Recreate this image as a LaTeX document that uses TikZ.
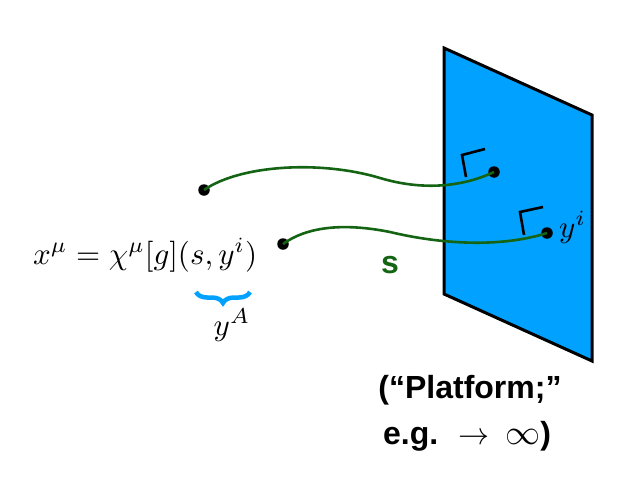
\documentclass[tikz,border=0pt]{standalone}
\usepackage{fontspec}
\setsansfont{Liberation Sans}
\usetikzlibrary{decorations.pathreplacing}
\definecolor{platblue}{RGB}{0,161,255}
\definecolor{strgreen}{RGB}{20,100,20}
\newcommand{\mybigmath}[2]{\scalebox{#1}{\normalsize$#2$}}
\begin{document}
\begin{tikzpicture}[x=1pt,y=-1pt,
  dotnode/.style={circle,fill=black,inner sep=0pt,minimum size=11.5pt},
  stringline/.style={strgreen,line width=2.6pt},
  cornermark/.style={black,line width=2.6pt},
  platform/.style={fill=platblue,draw=black,line width=3pt,line join=miter},
  bracestyle/.style={platblue,line width=4.5pt,decorate,decoration={brace,amplitude=11pt}},
  mathlabel/.style={inner sep=0pt},
  boldlabel/.style={inner sep=0pt,font=\sffamily\bfseries\fontsize{32}{38}\selectfont}]
\useasboundingbox (0,0) rectangle (643,498);
% platform
\draw[platform] (444,48) -- (592,115) -- (592,361) -- (444,294) -- cycle;
% endpoints
\node[dotnode] (d1) at (204,190) {};
\node[dotnode] (d2) at (494,172) {};
\node[dotnode] (d3) at (283,244) {};
\node[dotnode] (d4) at (547,233) {};
\coordinate (m1) at (380,178);
\coordinate (m2) at (390,232);
% strings
\draw[stringline] (d1.center) .. controls (240,165) and (320,160) .. (m1)
   .. controls (420,190) and (460,188) .. (d2.center);
\draw[stringline] (d3.center) .. controls (305,228) and (340,222) .. (m2)
   .. controls (440,244) and (500,248) .. (d4.center);
% corner marks
\coordinate (c1a) at (485,149); \coordinate (c1b) at (462,155); \coordinate (c1c) at (466,177);
\coordinate (c2a) at (543,207); \coordinate (c2b) at (520,212); \coordinate (c2c) at (524,235);
\draw[cornermark] (c1a) -- (c1b) -- (c1c);
\draw[cornermark] (c2a) -- (c2b) -- (c2c);
% labels
\node[mathlabel,anchor=base west] (yi) at (559,237) {\mybigmath{3.1}{y^i}};
\node[mathlabel,anchor=base west] (eq) at (33,264) {\mybigmath{3.1}{x^\mu=\chi^\mu[g](s,y^i)}};
\node[boldlabel,text=strgreen,anchor=base] (s) at (390,273) {s};
\coordinate (bl) at (196,292);
\coordinate (br) at (250,292);
\draw[bracestyle] (br) -- (bl);
\node[mathlabel,anchor=base] (yA) at (232,335) {\mybigmath{3.1}{y^A}};
\node[boldlabel,anchor=base] (p1) at (470,398) {(“Platform;”};
\node[boldlabel,anchor=base west] (p2) at (383,444) {e.g.\hspace{20pt}\mybigmath{3.1}{\rightarrow}\hspace{16pt}\mybigmath{3.5}{\infty})};
\end{tikzpicture}
\end{document}
